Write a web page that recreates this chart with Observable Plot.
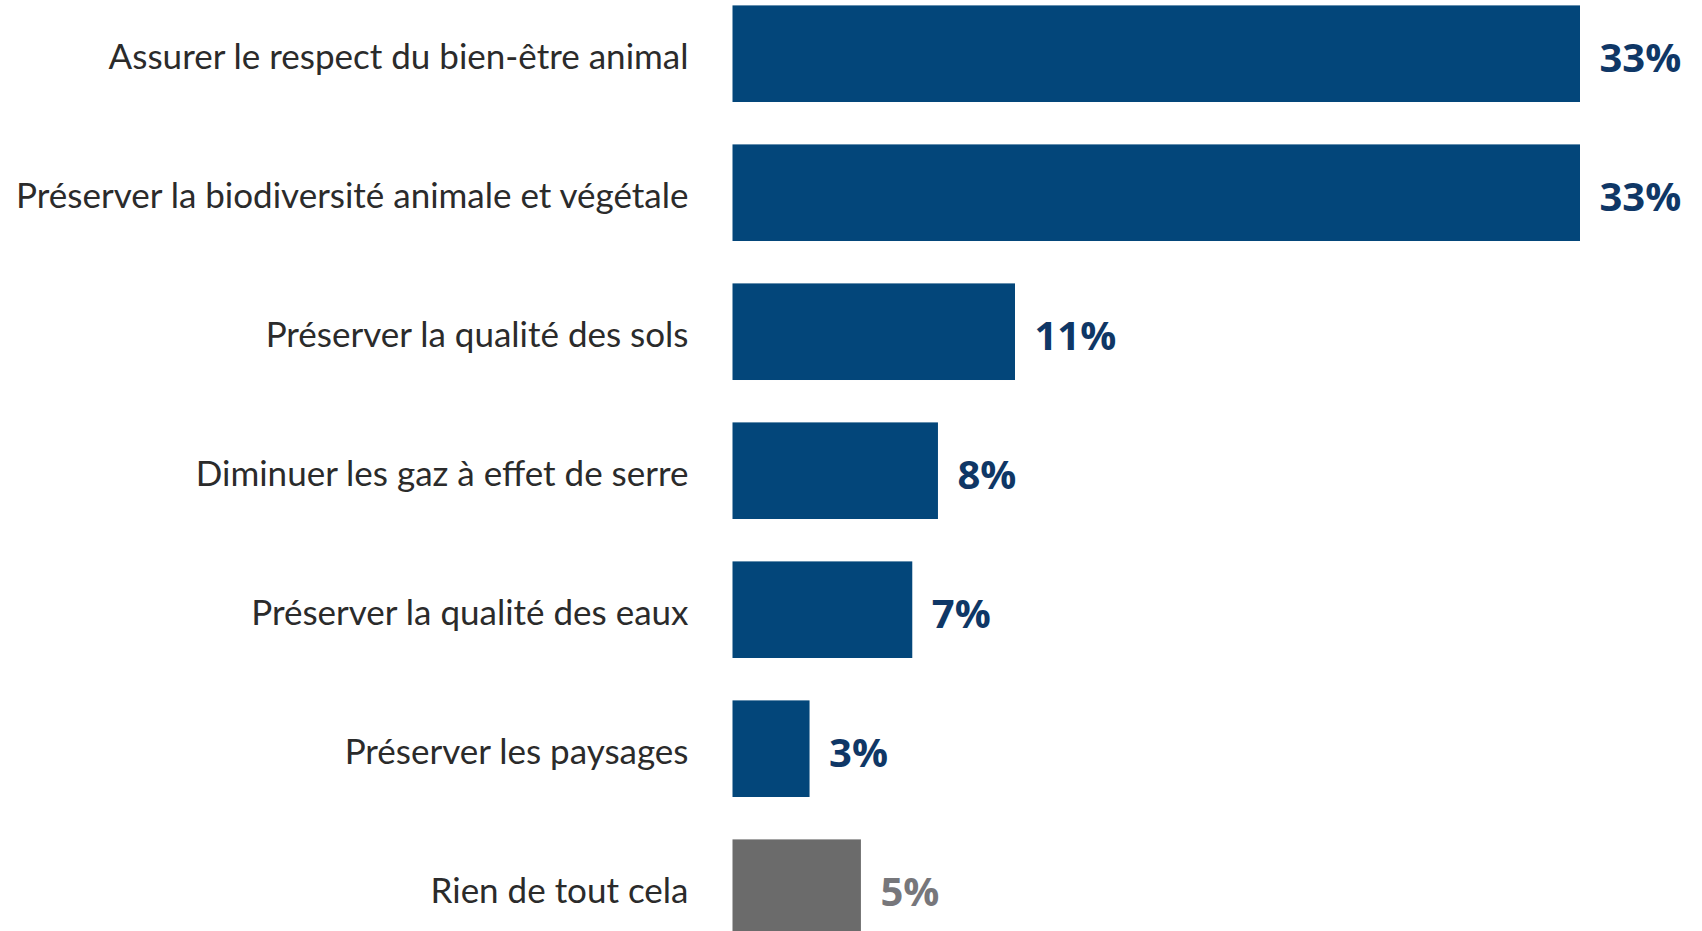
<!DOCTYPE html>
<html>
<head>
<meta charset="utf-8">
<script src="https://cdn.jsdelivr.net/npm/d3@7"></script>
<script src="https://cdn.jsdelivr.net/npm/@observablehq/plot@0.6"></script>
<style>
  html, body { margin: 0; padding: 0; background: #ffffff; overflow: hidden; }
</style>
</head>
<body>
<div id="chart"></div>
<script>
const categories = [
  "Assurer le respect du bien-être animal",
  "Préserver la biodiversité animale et végétale",
  "Préserver la qualité des sols",
  "Diminuer les gaz à effet de serre",
  "Préserver la qualité des eaux",
  "Préserver les paysages",
  "Rien de tout cela"
];
const values = [33, 33, 11, 8, 7, 3, 5];
const valueLabels = ["33%", "33%", "11%", "8%", "7%", "3%", "5%"];
const groups = ["item", "item", "item", "item", "item", "item", "none"];

const data = categories.map((c, i) => ({
  category: c,
  value: values[i],
  label: valueLabels[i],
  group: groups[i]
}));

const barColor = d => d.group === "none" ? "#6b6b6b" : "#03467a";
const labelColor = d => d.group === "none" ? "#77777b" : "#0f3766";

const chart = Plot.plot({
  width: 1702,
  height: 931,
  marginLeft: 733,
  marginRight: 0,
  marginTop: 0,
  marginBottom: 0,
  style: { background: "#ffffff", fontFamily: "Lato", fontSize: "35px", color: "#2b2b2b" },
  x: { domain: [0, 33], range: [732.5, 1580], axis: null },
  y: { domain: categories, range: [5.4, 936], paddingInner: 0.305, paddingOuter: 0, round: false, label: null },
  marks: [
    Plot.barX(data, { y: "category", x: "value", fill: barColor }),
    Plot.text(data, {
      y: "category", x: "value", text: "label",
      dx: 19, dy: 5, textAnchor: "start",
      fill: labelColor, fontSize: 40, fontWeight: 700, fontFamily: "Open Sans"
    }),
    Plot.axisY({ tickSize: 0, tickPadding: 45, fontSize: 35, fill: "#2b2b2b", dy: 4, label: null })
  ]
});
document.getElementById("chart").appendChild(chart);
</script>
</body>
</html>
